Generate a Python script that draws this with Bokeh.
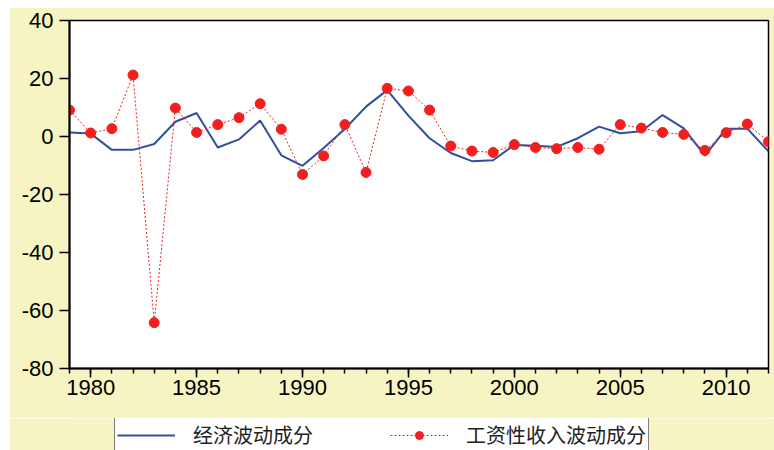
from bokeh.plotting import figure
from bokeh.models import Range1d, FixedTicker, Legend, LegendItem, Spacer
from bokeh.layouts import column, row
from bokeh.embed import file_html
from bokeh.resources import INLINE

years = list(range(1979, 2013))
economic = [1.4, 1.0, -4.6, -4.6, -2.6, 5.1, 8.1, -3.8, -1.0, 5.5, -6.5, -10.1,
            -4.0, 2.6, 10.3, 16.0, 7.2, -0.6, -5.7, -8.5, -8.2, -2.9, -3.2, -3.6,
            -0.6, 3.4, 1.1, 1.8, 7.4, 2.8, -6.6, 2.7, 2.7, -5.1]
wage = [9.1, 1.2, 2.7, 21.2, -64.2, 9.8, 1.4, 4.1, 6.5, 11.3, 2.5, -13.1,
        -6.7, 4.1, -12.4, 16.6, 15.7, 9.1, -3.3, -5.0, -5.5, -2.8, -3.8, -4.2,
        -3.8, -4.4, 4.1, 2.9, 1.4, 0.7, -4.8, 1.3, 4.3, -1.8]
x_ticks = [1980, 1985, 1990, 1995, 2000, 2005, 2010]
y_ticks = [-80, -60, -40, -20, 0, 20, 40]
labels = ["经济波动成分", "工资性收入波动成分"]

BG = "#F6F4C2"
BLUE = "#2F4F9F"
RED = "#F41E1E"

p = figure(width=765, height=411, output_backend="svg", toolbar_location=None,
           x_range=Range1d(1979, 2012), y_range=Range1d(-80, 40),
           min_border_left=60, min_border_right=6, min_border_top=13,
           min_border_bottom=50)
p.background_fill_color = "white"
p.border_fill_color = BG
p.outline_line_color = "black"
p.outline_line_width = 1.5
p.grid.visible = False

p.xaxis.ticker = FixedTicker(ticks=x_ticks, minor_ticks=years)
p.yaxis.ticker = FixedTicker(ticks=y_ticks, minor_ticks=[])
p.yaxis.major_label_overrides = {t: str(t) for t in y_ticks}
for ax in (p.xaxis[0], p.yaxis[0]):
    ax.axis_line_color = "black"
    ax.axis_line_width = 2
    ax.major_tick_line_color = "black"
    ax.major_tick_line_width = 1.5
    ax.minor_tick_line_color = "black"
    ax.minor_tick_line_width = 1.5
    ax.major_tick_in = 0
    ax.minor_tick_in = 0
    ax.major_label_text_font = "Liberation Sans"
    ax.major_label_text_font_size = "22px"
    ax.major_label_text_color = "black"
p.xaxis.major_tick_out = 9
p.xaxis.minor_tick_out = 5
p.xaxis.major_label_standoff = 2
p.yaxis.major_tick_out = 10
p.yaxis.minor_tick_out = 0
p.yaxis.major_label_standoff = 6

p.line(years, economic, line_color=BLUE, line_width=2)
p.line(years, wage, line_color=RED, line_width=1, line_dash="2 2")
p.scatter(years, wage, size=10, fill_color=RED, line_color=RED)

# legend strip below the chart (same borders so the frames line up)
p2 = figure(width=765, height=32, output_backend="svg", toolbar_location=None,
            x_range=Range1d(-10, -9), y_range=Range1d(-10, -9),
            x_axis_type=None, y_axis_type=None,
            min_border_left=60, min_border_right=6, min_border_top=0,
            min_border_bottom=0)
p2.background_fill_color = BG
p2.border_fill_color = BG
p2.outline_line_color = None
p2.grid.visible = False
d1 = p2.line(years, economic, line_color=BLUE, line_width=2)
d2 = p2.line(years, wage, line_color=RED, line_width=1, line_dash="2 2")
d3 = p2.scatter(years, wage, size=10, fill_color=RED, line_color=RED)

legend = Legend(items=[LegendItem(label=labels[0], renderers=[d1]),
                       LegendItem(label=labels[1], renderers=[d2, d3])],
                orientation="horizontal", location=(45, -2))
legend.label_text_font = "Noto Sans CJK SC"
legend.label_text_font_size = "20px"
legend.label_text_color = "#222222"
legend.glyph_width = 58
legend.label_standoff = 18
legend.label_width = 172
legend.spacing = 25
legend.padding = 2
legend.margin = 0
legend.border_line_color = "black"
legend.border_line_width = 1.5
legend.background_fill_color = "white"
legend.background_fill_alpha = 1
p2.add_layout(legend, "center")

layout = column(Spacer(height=7), row(Spacer(width=9), column(p, p2)))
open("out.html", "w").write(file_html(layout, INLINE))
